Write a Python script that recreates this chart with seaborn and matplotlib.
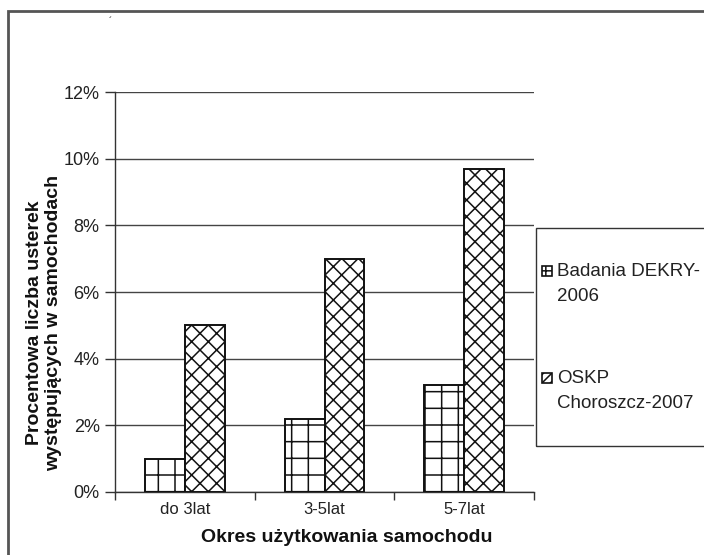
import matplotlib
matplotlib.use("Agg")
import matplotlib.pyplot as plt
import seaborn as sns
import pandas as pd
from matplotlib.patches import Rectangle
from matplotlib.ticker import FixedLocator

categories = ["do 3lat", "3-5lat", "5-7lat"]
series_names = ["Badania DEKRY-\n2006", "OSKP\nChoroszcz-2007"]
dekra = [1.0, 2.2, 3.2]
oskp = [5.0, 7.0, 9.7]
yticks = [0, 2, 4, 6, 8, 10, 12]
ytick_labels = [f"{v}%" for v in yticks]
hatches = ["+", "xx"]

sns.set_theme(style="white")
plt.rcParams["font.family"] = ["Liberation Sans", "DejaVu Sans"]
plt.rcParams["hatch.linewidth"] = 1.1
plt.rcParams["hatch.color"] = "#222222"

df = pd.DataFrame({
    "cat": categories * 2,
    "val": dekra + oskp,
    "series": [series_names[0]] * 3 + [series_names[1]] * 3,
})

W, H = 704, 555
fig = plt.figure(figsize=(W / 100, H / 100), dpi=100)
ax = fig.add_axes([115 / W, 1 - 492 / H, (534 - 115) / W, (492 - 92) / H])

sns.barplot(data=df, x="cat", y="val", hue="series", order=categories,
            hue_order=series_names, palette=["white", "white"], saturation=1,
            edgecolor="#111111", linewidth=1.4, width=0.57, gap=0,
            legend=False, ax=ax, zorder=3)

for cont, h in zip(ax.containers, hatches):
    for p in cont:
        p.set_hatch(h)
        p.set_facecolor("white")

ax.set_ylim(0, 12)
ax.set_xlim(-0.5, 2.5)
ax.set_yticks(yticks)
ax.set_yticklabels(ytick_labels, fontsize=13, color="#222222")
ax.set_xticks(range(len(categories)))
ax.set_xticklabels(categories, fontsize=12, color="#222222")
ax.xaxis.set_minor_locator(FixedLocator([-0.5, 0.5, 1.5, 2.5]))
ax.tick_params(axis="x", which="major", length=0, pad=7)
ax.tick_params(axis="x", which="minor", length=6, width=1, color="#333333", direction="out", bottom=True)
ax.tick_params(axis="y", length=7, width=1, color="#333333", direction="out", left=True, pad=4)
ax.yaxis.grid(True, color="#444444", linewidth=1)
ax.set_axisbelow(True)
for s in ["top", "right"]:
    ax.spines[s].set_visible(False)
for s in ["left", "bottom"]:
    ax.spines[s].set_color("#333333")
    ax.spines[s].set_linewidth(1)
ax.set_xlabel("")
ax.set_ylabel("")

fig.text(44 / W, 1 - 323 / H, "Procentowa liczba usterek\nwystępujących w samochodach",
         rotation=90, ha="center", va="center", multialignment="center",
         fontsize=14, fontweight="bold", color="#111111", linespacing=1.1)
fig.text(347 / W, 1 - 537 / H, "Okres użytkowania samochodu",
         ha="center", va="center", fontsize=14, fontweight="bold", color="#111111")
fig.text(110 / W, 1 - 22 / H, "´", ha="center", va="center", fontsize=7, color="#111111")

# outer frame of the figure (cut off at right/bottom)
fig.patches.append(Rectangle((8 / W, -0.2), 1.2, 1 - 11 / H + 0.2, transform=fig.transFigure,
                             fill=False, edgecolor="#555555", linewidth=2))

# legend box
fig.patches.append(Rectangle((536 / W, 1 - 446 / H), 0.5, (446 - 228) / H,
                             transform=fig.transFigure, fill=False,
                             edgecolor="#333333", linewidth=1))
legend_base = [276, 383]
legend_hatch = ["++", "////"]
for name, h, by in zip(series_names, legend_hatch, legend_base):
    fig.patches.append(Rectangle((542 / W, 1 - (by) / H), 10 / W, 10 / H,
                                 transform=fig.transFigure, facecolor="white",
                                 edgecolor="#111111", linewidth=1.2, hatch=h))
    for i, line in enumerate(name.split("\n")):
        fig.text(557 / W, 1 - (by + 25 * i) / H, line, ha="left", va="baseline",
                 fontsize=13.5, color="#222222")

fig.savefig("out.png", dpi=100)
